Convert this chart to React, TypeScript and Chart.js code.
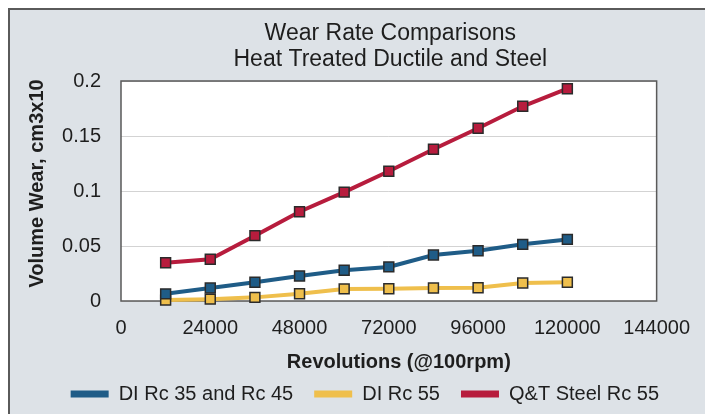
import React, { useEffect, useRef } from 'react';
import { Chart, registerables } from 'chart.js';

Chart.register(...registerables);

const revolutions = [12000, 24000, 36000, 48000, 60000, 72000, 84000, 96000, 108000, 120000];
const diRc35and45 = [0.0065, 0.0118, 0.017, 0.0227, 0.028, 0.031, 0.0418, 0.0457, 0.0515, 0.056];
const diRc55 = [0.0008, 0.0017, 0.0033, 0.0066, 0.011, 0.0112, 0.0118, 0.012, 0.0164, 0.017];
const qtSteelRc55 = [0.0348, 0.038, 0.0594, 0.0812, 0.099, 0.118, 0.138, 0.157, 0.177, 0.193];

const seriesNames = ['DI Rc 35 and Rc 45', 'DI Rc 55', 'Q&T Steel Rc 55'];
const seriesColors = ['#1f5c87', '#efbf4c', '#b71c3d'];
const xTickLabels = ['0', '24000', '48000', '72000', '96000', '120000', '144000'];
const yTickLabels = ['0', '0.05', '0.1', '0.15', '0.2'];
const titleLines = ['Wear Rate Comparisons', 'Heat Treated Ductile and Steel'];
const xAxisTitle = 'Revolutions (@100rpm)';
const yAxisTitle = 'Volume Wear, cm3x10';

const FONT = '"Liberation Sans", Arial, Helvetica, sans-serif';
const TEXT = '#1e1e1e';

const decorPlugin = {
  id: 'decor',
  beforeDraw(chart: any) {
    const { ctx, chartArea: a } = chart;
    ctx.save();
    ctx.fillStyle = '#ffffff';
    ctx.fillRect(a.left, a.top, a.right - a.left, a.bottom - a.top);
    ctx.restore();
  },
  beforeDatasetsDraw(chart: any) {
    const { ctx, chartArea: a } = chart;
    ctx.save();
    ctx.strokeStyle = '#5a5a5a';
    ctx.lineWidth = 1.5;
    ctx.strokeRect(a.left, a.top, a.right - a.left, a.bottom - a.top);
    ctx.restore();
  },
  afterDraw(chart: any) {
    const { ctx, chartArea: a } = chart;
    const cx = (a.left + a.right) / 2;
    const cy = (a.top + a.bottom) / 2;
    ctx.save();
    ctx.fillStyle = TEXT;
    ctx.textAlign = 'center';
    ctx.textBaseline = 'alphabetic';
    ctx.font = `23px ${FONT}`;
    ctx.fillText(titleLines[0], cx + 1.5, a.top - 41);
    ctx.fillText(titleLines[1], cx + 1.5, a.top - 15);

    ctx.font = `bold 20px ${FONT}`;
    ctx.fillText(xAxisTitle, cx + 10, a.bottom + 67);

    ctx.translate(32.5, cy - 7.5);
    ctx.rotate(-Math.PI / 2);
    ctx.fillText(yAxisTitle, 0, 0);
    ctx.restore();
  },
};

export default function App() {
  const canvasRef = useRef<HTMLCanvasElement | null>(null);

  useEffect(() => {
    if (!canvasRef.current) return;
    const mk = (vals: number[]) => revolutions.map((x, i) => ({ x, y: vals[i] }));
    const allSeries = [diRc35and45, diRc55, qtSteelRc55];
    const chart = new Chart(canvasRef.current, {
      type: 'line',
      data: {
        datasets: allSeries.map((vals, i) => ({
          label: seriesNames[i],
          data: mk(vals),
          borderColor: seriesColors[i],
          backgroundColor: seriesColors[i],
          borderWidth: 4,
          pointStyle: 'rect',
          pointRadius: 7,
          pointBorderWidth: 1.5,
          pointBorderColor: '#2b2b2b',
          pointBackgroundColor: seriesColors[i],
          tension: 0,
          clip: false,
        })),
      },
      options: {
        animation: false,
        responsive: false,
        devicePixelRatio: 1,
        layout: { padding: { left: 14.7, right: 0, top: 71, bottom: 0 } },
        scales: {
          x: {
            type: 'linear',
            min: 0,
            max: 144000,
            grid: { display: false, drawTicks: false },
            border: { display: false },
            ticks: {
              stepSize: 24000,
              padding: 15,
              color: TEXT,
              font: { size: 20, family: FONT },
              maxRotation: 0,
              callback: (_v: any, i: number) => xTickLabels[i],
            },
            afterFit: (s: any) => { s.height = 62; },
          },
          y: {
            type: 'linear',
            min: 0,
            max: 0.2,
            grid: { color: '#d3d3d3', lineWidth: 1, drawTicks: false },
            border: { display: false },
            ticks: {
              stepSize: 0.05,
              padding: 20,
              color: TEXT,
              font: { size: 20, family: FONT },
              callback: (_v: any, i: number) => yTickLabels[i],
            },
            afterFit: (s: any) => { s.width = 96.3; },
          },
          y2: {
            type: 'linear',
            position: 'right',
            display: true,
            grid: { display: false, drawTicks: false },
            border: { display: false },
            ticks: { display: false },
            afterFit: (s: any) => { s.width = 39; },
          },
        },
        plugins: {
          title: { display: false },
          tooltip: { enabled: false },
          legend: {
            display: true,
            position: 'bottom',
            labels: {
              boxWidth: 38,
              boxHeight: 7,
              padding: 21,
              color: TEXT,
              font: { size: 20, family: FONT },
              generateLabels: (c: any) =>
                c.data.datasets.map((d: any, i: number) => ({
                  text: d.label,
                  fillStyle: seriesColors[i],
                  strokeStyle: seriesColors[i],
                  lineWidth: 0,
                  hidden: false,
                  datasetIndex: i,
                  fontColor: TEXT,
                })),
            },
          },
        },
      },
      plugins: [decorPlugin],
    } as any);
    return () => chart.destroy();
  }, []);

  return (
    <div
      style={{
        position: 'fixed',
        left: 8,
        top: 8,
        width: 697,
        height: 406,
        boxSizing: 'border-box',
        borderLeft: '2px solid #5a5a5a',
        borderTop: '2px solid #5a5a5a',
        background: '#dde2e7',
        overflow: 'hidden',
      }}
    >
      <canvas ref={canvasRef} width={695} height={404} style={{ display: 'block', width: 695, height: 404 }} />
    </div>
  );
}
